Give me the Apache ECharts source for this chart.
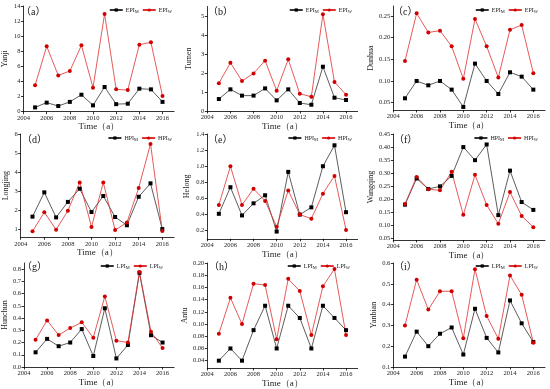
<!DOCTYPE html>
<html><head><meta charset="utf-8">
<script src="https://cdn.jsdelivr.net/npm/echarts@6/dist/echarts.min.js"></script>
<style>html,body{margin:0;padding:0;background:#fff}#c{width:550px;height:389px}</style>
</head><body><div id="c"></div>
<script>
const years = [2005,2006,2007,2008,2009,2010,2011,2012,2013,2014,2015,2016];
const yearTicks = [2004,2006,2008,2010,2012,2014,2016];

const yanjiM = [0.57,1.2,0.75,1.3,2.25,0.84,3.27,1.0,1.06,3.05,2.96,1.3];
const yanjiW = [3.49,8.66,4.81,5.39,8.79,3.18,12.94,2.96,2.87,8.88,9.19,2.08];
const tumenM = [0.63,1.14,0.81,0.81,1.19,0.56,1.14,0.42,0.33,2.33,0.7,0.58];
const tumenW = [1.46,2.54,1.58,1.98,2.65,1.07,2.72,0.91,0.75,5.09,1.53,0.86];
const dunhuaM = [0.06,0.10,0.09,0.10,0.08,0.04,0.14,0.10,0.07,0.12,0.11,0.08];
const dunhuaW = [0.146,0.256,0.212,0.216,0.18,0.105,0.243,0.18,0.108,0.218,0.229,0.118];
const longjingM = [1.68,2.95,1.64,2.45,3.14,1.92,2.76,1.66,1.23,2.72,3.42,1.03];
const longjingW = [0.91,1.91,1.0,1.99,3.47,1.14,3.47,0.98,1.37,3.18,5.48,0.93];
const helongM = [0.41,0.74,0.39,0.54,0.64,0.19,0.93,0.40,0.49,1.0,1.26,0.43];
const helongW = [0.52,1.0,0.52,0.72,0.57,0.25,0.70,0.40,0.35,0.66,0.88,0.21];
const wangqingM = [0.18,0.28,0.24,0.25,0.29,0.40,0.35,0.41,0.14,0.31,0.19,0.16];
const wangqingW = [0.183,0.286,0.239,0.235,0.306,0.141,0.294,0.179,0.107,0.228,0.137,0.094];
const hunchunM = [0.12,0.23,0.17,0.20,0.31,0.09,0.48,0.07,0.18,0.77,0.26,0.20];
const hunchunW = [0.223,0.381,0.261,0.318,0.365,0.24,0.577,0.215,0.20,0.776,0.288,0.155];
const antuM = [0.04,0.06,0.04,0.09,0.13,0.06,0.13,0.11,0.06,0.13,0.11,0.09];
const antuW = [0.084,0.143,0.10,0.166,0.164,0.075,0.174,0.154,0.082,0.162,0.19,0.082];
const yanbianM = [0.15,0.27,0.20,0.26,0.29,0.16,0.38,0.24,0.17,0.42,0.31,0.22];
const yanbianW = [0.30,0.52,0.376,0.464,0.464,0.238,0.57,0.345,0.236,0.54,0.447,0.217];

const yanjiTicks = [0,2,4,6,8,10,12,14];
const tumenTicks = [0,1,2,3,4,5];
const dunhuaTicks = [0.05,0.10,0.15,0.20,0.25];
const longjingTicks = [1,2,3,4,5,6];
const helongTicks = [0.2,0.4,0.6,0.8,1.0,1.2,1.4];
const wangqingTicks = [0.05,0.10,0.15,0.20,0.25,0.30,0.35,0.40,0.45];
const hunchunTicks = [0.0,0.1,0.2,0.3,0.4,0.5,0.6,0.7,0.8];
const antuTicks = [0.04,0.06,0.08,0.10,0.12,0.14,0.16,0.18,0.20];
const yanbianTicks = [0.1,0.2,0.3,0.4,0.5,0.6];

const panelNames = ['Yanji','Tumen','Dunhua','Longjing','Helong','Wangqing','Hunchun','Antu','Yanbian'];
const panelLetters = ['a','b','c','d','e','f','g','h','i'];
const indexNames = ['EPI','EPI','EPI','HPI','HPI','HPI','LPI','LPI','LPI'];
const seriesM = [yanjiM,tumenM,dunhuaM,longjingM,helongM,wangqingM,hunchunM,antuM,yanbianM];
const seriesW = [yanjiW,tumenW,dunhuaW,longjingW,helongW,wangqingW,hunchunW,antuW,yanbianW];
const ticks = [yanjiTicks,tumenTicks,dunhuaTicks,longjingTicks,helongTicks,wangqingTicks,hunchunTicks,antuTicks,yanbianTicks];

// layout (pixels) and axis extents
const layout = [
  {l:20.7,t:6,w:153.4,h:105.7,min:0,max:14,dec:0,gap:14.5,lr:373,lt:2,px:21,py:13},
  {l:207.3,t:6.5,w:150.3,h:104.5,min:0,max:5.5,dec:0,gap:14,lr:193,lt:2,px:208,py:13},
  {l:393.3,t:6,w:151.7,h:104,min:0.033,max:0.273,dec:2,gap:17,lr:7,lt:2,px:393,py:13},
  {l:20.7,t:134,w:153.4,h:103.3,min:0.6,max:6,dec:0,gap:10.5,lr:373,lt:130,px:22,py:141},
  {l:207.3,t:134,w:150.3,h:104.8,min:0.1,max:1.4,dec:1,gap:16.5,lr:193,lt:130,px:208,py:141},
  {l:393.3,t:134,w:151.7,h:106,min:0.045,max:0.45,dec:2,gap:16.5,lr:7,lt:130,px:394,py:141},
  {l:20.7,t:263,w:153.4,h:104,min:0,max:0.85,dec:1,gap:13.5,lr:382,lt:258,px:22,py:268},
  {l:207.3,t:263,w:150.3,h:105,min:0.028,max:0.20,dec:2,gap:14.5,lr:195,lt:258,px:209,py:268},
  {l:393.3,t:263,w:151.7,h:104,min:0.1,max:0.6,dec:1,gap:15,lr:7,lt:258,px:394,py:268}
];

const FONT = 'Liberation Serif';
const grids=[], xAxes=[], yAxes=[], series=[], legends=[], graphics=[];
layout.forEach((p,k)=>{
  grids.push({left:p.l, top:p.t, width:p.w, height:p.h, containLabel:false});
  xAxes.push({type:'value', gridIndex:k, min:2004, max:2017,
    name:'Time（a）', nameLocation:'middle', nameGap:10,
    nameTextStyle:{fontFamily:FONT, fontSize:9, color:'#222'},
    axisLine:{lineStyle:{color:'#000', width:0.8}},
    axisTick:{show:true, length:2.5, customValues:yearTicks, lineStyle:{color:'#000',width:0.8}},
    axisLabel:{customValues:yearTicks, fontFamily:FONT, fontSize:6.5, color:'#222', margin:3, formatter:v=>String(v)},
    splitLine:{show:false}});
  yAxes.push({type:'value', gridIndex:k, min:p.min, max:p.max,
    name:panelNames[k], nameLocation:'middle', nameGap:p.gap, nameRotate:90,
    nameTextStyle:{fontFamily:FONT, fontSize:8, color:'#222'},
    axisLine:{show:true, lineStyle:{color:'#000', width:0.8}},
    axisTick:{show:true, length:2.5, customValues:ticks[k], lineStyle:{color:'#000',width:0.8}},
    axisLabel:{customValues:ticks[k], fontFamily:FONT, fontSize:6.5, color:'#222', margin:3,
      formatter:v=>Number(v).toFixed(p.dec)},
    splitLine:{show:false}});
  const nm = panelLetters[k]+'|'+indexNames[k]+'_M';
  const nw = panelLetters[k]+'|'+indexNames[k]+'_W';
  series.push({name:nm, type:'line', xAxisIndex:k, yAxisIndex:k,
    data:years.map((y,i)=>[y, seriesM[k][i]]),
    symbol:'rect', symbolSize:4, showAllSymbol:true,
    lineStyle:{color:'#333', width:0.8}, itemStyle:{color:'#000'}, animation:false});
  series.push({name:nw, type:'line', xAxisIndex:k, yAxisIndex:k,
    data:years.map((y,i)=>[y, seriesW[k][i]]),
    symbol:'circle', symbolSize:4, showAllSymbol:true,
    lineStyle:{color:'#e03030', width:0.8}, itemStyle:{color:'#d00000'}, animation:false});
  legends.push({right:p.lr, top:p.lt, orient:'horizontal', itemWidth:13, itemHeight:4, itemGap:3,
    data:[nm,nw], selectedMode:false,
    formatter:name=>{const t=name.split('|')[1].split('_'); return t[0]+'{s|'+t[1]+'}';},
    textStyle:{fontFamily:FONT, fontSize:6, color:'#222', padding:[0,0,0,-2],
      rich:{s:{fontFamily:FONT, fontSize:4.5, color:'#222', padding:[3,0,0,0]}}}});
  graphics.push({type:'text', left:p.px, top:p.py-6,
    style:{text:'（'+panelLetters[k]+'）', font:'10px "Liberation Serif","Noto Sans CJK SC"', fill:'#111'}});
});

const chart = echarts.init(document.getElementById('c'), null, {renderer:'canvas'});
chart.setOption({animation:false, grid:grids, xAxis:xAxes, yAxis:yAxes, series:series, legend:legends, graphic:graphics});
</script></body></html>
